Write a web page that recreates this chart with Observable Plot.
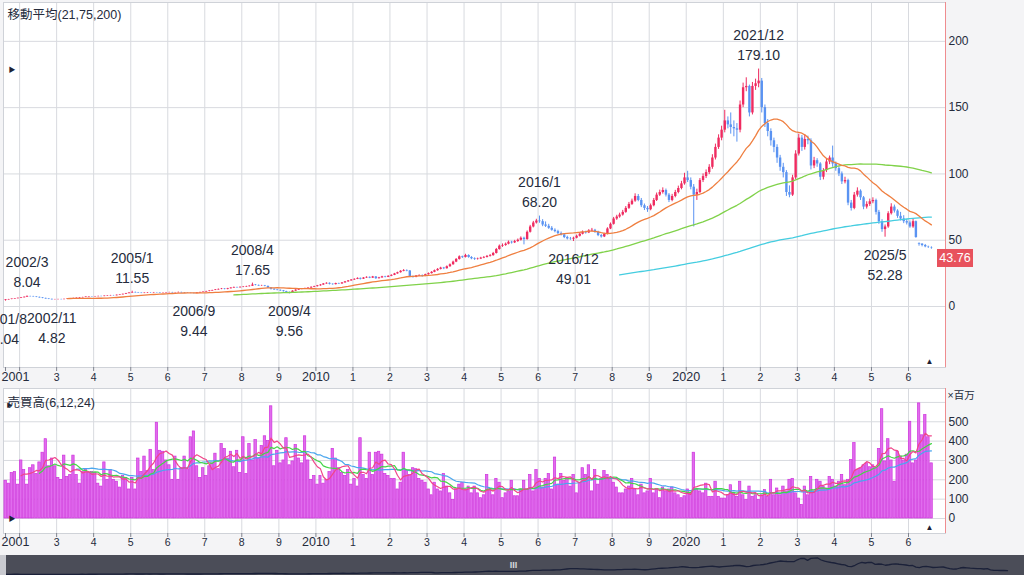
<!DOCTYPE html>
<html><head><meta charset="utf-8">
<script src="https://cdn.jsdelivr.net/npm/d3@7"></script>
<script src="https://cdn.jsdelivr.net/npm/@observablehq/plot@0.6"></script>
<style>
body{margin:0;background:#f4f4f6;}
#wrap{position:relative;width:1024px;height:575px;overflow:hidden;background:#f4f4f6;}
#strip{position:absolute;left:0;top:555px;width:6px;height:20px;background:#c9cad0;}
</style></head><body><div id="wrap"><div id="strip"></div></div>
<script>
// ---- data: monthly candles from 2001/8 to 2026/8 ----
const startYear = 2001, startMonth = 8;
const open = [
4.5,5.0,5.3,5.6,5.9,
6.2,6.6,7.0,7.5,7.4,7.2,6.9,6.5,6.1,5.7,5.4,5.1,
5.2,5.3,5.2,5.4,5.6,5.8,6.1,6.3,6.6,6.8,7.1,7.3,
7.2,7.4,7.6,7.5,7.8,8.0,8.2,8.1,8.5,8.8,9.2,9.7,
10.2,10.6,10.3,10.1,9.9,10.1,10.3,10.2,10.4,10.3,10.1,10.2,
10.4,10.5,10.3,10.4,10.6,10.3,10.1,10.0,9.9,9.8,10.2,10.6,
10.9,11.3,11.7,12.1,12.5,12.9,13.2,12.9,13.4,13.9,14.3,14.1,
14.5,14.7,15.0,15.3,16.2,15.9,15.5,15.6,15.2,14.0,13.0,12.5,
12.2,11.8,11.2,10.6,10.4,11.6,12.4,12.9,13.2,13.6,13.9,14.5,
15.0,15.6,16.2,17.0,17.5,16.8,16.5,17.3,17.0,17.8,18.6,19.3,
20.0,20.5,21.2,20.6,21.5,22.0,21.4,22.3,21.0,21.6,22.4,22.0,
22.8,23.5,24.6,25.5,26.6,27.2,26.8,22.5,22.0,23.0,23.4,22.8,
24.0,24.8,25.8,27.0,28.0,29.0,28.5,30.0,31.5,33.5,35.5,37.5,
37.0,38.5,37.0,36.0,35.5,35.8,36.5,37.0,37.8,38.4,40.0,43.0,
45.5,46.0,47.0,48.5,48.0,49.0,50.0,51.5,50.5,56.0,60.0,63.0,
64.5,64.0,61.5,60.5,59.0,57.5,56.5,55.0,54.0,52.0,51.0,50.8,
51.5,53.0,54.5,56.0,55.5,57.0,57.5,56.0,53.5,52.5,54.5,58.5,
62.0,66.0,67.5,69.0,71.0,74.0,77.0,79.5,83.0,80.0,76.0,74.0,
73.0,76.0,80.0,84.0,86.0,87.5,84.0,80.0,83.0,86.0,89.0,92.5,
97.0,95.0,90.0,84.0,86.0,95.0,98.0,101.0,105.0,112.0,120.0,127.0,
133.0,140.0,137.0,135.0,134.0,133.0,152.0,165.0,166.0,146.0,166.0,168.0,
170.0,150.0,138.0,132.0,125.0,120.0,112.0,105.0,101.0,86.0,84.0,97.0,
115.0,127.0,120.0,126.0,125.0,106.0,110.0,107.5,97.5,102.5,109.0,112.0,
107.5,104.0,100.0,94.0,95.0,78.0,74.0,84.0,87.0,82.0,75.0,77.0,
79.0,80.0,71.0,64.0,58.0,60.0,70.0,75.0,72.0,68.0,66.0,64.0,
63.0,60.0,64.0,47.5,47.0,46.0,45.0,44.0];
const high = [
5.2,5.4,5.7,6.0,6.4,
6.8,7.2,8.04,7.8,7.7,7.4,7.1,6.7,6.3,5.9,5.6,5.4,
5.5,5.5,5.6,5.8,6.0,6.3,6.5,6.8,7.0,7.3,7.5,7.5,
7.6,7.8,7.8,8.0,8.2,8.4,8.4,8.7,9.0,9.4,9.9,10.4,
11.55,10.9,10.6,10.3,10.3,10.5,10.5,10.6,10.6,10.5,10.4,10.6,
10.8,10.7,10.6,10.9,10.8,10.5,10.3,10.2,10.1,10.4,10.8,11.1,
11.5,11.9,12.3,12.8,13.2,13.6,13.5,13.7,14.2,14.7,14.6,14.8,
15.1,15.3,15.7,17.65,16.6,16.2,16.0,15.9,15.4,14.3,13.4,12.9,
12.5,12.1,11.5,10.9,11.9,12.7,13.2,13.5,13.9,14.2,14.8,15.3,
15.9,16.5,17.3,17.9,17.8,17.1,17.6,17.6,18.1,18.9,19.6,20.3,
20.9,21.6,21.5,21.8,22.4,22.3,22.7,22.6,22.0,22.8,22.8,23.2,
23.9,25.0,25.9,27.0,27.8,27.6,27.1,23.0,23.4,23.9,23.8,24.4,
25.3,26.3,27.5,28.6,29.6,29.5,30.6,32.1,34.2,36.2,38.2,38.0,
39.4,39.0,37.6,36.7,36.5,37.1,37.7,38.5,39.2,40.8,43.8,46.4,
47.2,47.9,49.4,49.2,49.9,50.9,52.5,52.3,57.0,61.2,64.2,65.8,
68.2,65.5,63.8,62.0,60.3,58.6,57.5,56.2,55.0,53.0,52.1,52.3,
53.9,55.4,57.0,56.8,58.0,58.9,58.2,56.8,54.3,55.3,59.4,63.0,
67.2,68.8,70.4,72.5,75.4,78.5,81.0,85.0,84.5,81.5,77.3,75.4,
77.3,81.5,85.6,87.8,89.5,88.6,85.2,84.6,87.6,90.8,94.4,100.5,
102.0,97.0,92.0,88.5,96.5,100.0,103.0,107.0,114.5,122.5,129.5,136.0,
148.0,143.0,146.0,140.0,138.0,155.0,168.5,172.5,167.0,169.0,171.5,179.1,
172.0,152.0,141.0,134.0,127.0,122.0,114.0,108.0,102.5,91.0,99.0,117.5,
130.0,129.0,129.5,128.5,126.5,112.5,111.5,108.5,104.0,111.0,113.5,121.0,
109.0,105.5,101.5,97.5,96.0,80.0,86.0,89.5,88.0,83.0,79.0,81.0,
82.0,81.0,72.5,65.5,61.5,71.5,77.5,76.5,73.0,71.0,68.5,65.5,
64.5,66.0,64.5,48.0,47.5,46.8,45.5,45.0];
const low = [
4.04,4.8,5.1,5.4,5.7,
6.0,6.4,6.9,7.1,7.0,6.7,6.3,5.9,5.5,5.2,4.82,4.95,
5.0,5.0,5.05,5.3,5.5,5.7,5.9,6.2,6.4,6.7,6.9,7.0,
7.1,7.3,7.3,7.4,7.6,7.9,7.9,8.0,8.4,8.7,9.1,9.6,
10.0,10.1,9.9,9.7,9.7,9.9,10.0,10.0,10.1,9.9,9.9,10.0,
10.2,10.1,10.1,10.2,10.1,9.9,9.8,9.7,9.44,9.7,10.1,10.5,
10.8,11.1,11.5,12.0,12.3,12.7,12.6,12.6,13.2,13.7,13.8,13.9,
14.2,14.4,14.7,15.1,15.6,15.2,15.2,14.9,13.6,12.4,12.1,11.8,
11.4,10.9,10.2,9.56,10.2,11.4,12.1,12.6,12.9,13.3,13.7,14.2,
14.7,15.3,16.0,16.8,16.3,16.1,16.3,16.7,16.8,17.6,18.3,19.1,
19.7,20.3,20.0,20.4,21.2,21.0,21.2,20.5,20.7,21.3,21.6,21.8,
22.5,23.3,24.3,25.2,26.2,26.2,21.8,21.4,21.7,22.6,22.2,22.5,
23.7,24.5,25.5,26.6,27.6,27.8,28.2,29.6,31.1,33.1,35.0,36.2,
36.6,36.4,35.3,34.8,35.0,35.4,36.1,36.6,37.3,37.9,39.6,42.5,
44.6,45.4,46.5,47.1,47.5,48.4,49.4,46.5,50.0,55.4,59.3,62.2,
62.8,60.2,59.6,58.2,56.8,55.6,54.2,53.2,51.2,50.2,49.9,49.01,
51.0,52.4,54.0,54.6,55.0,56.4,55.2,52.7,51.6,52.0,54.0,58.0,
61.4,65.0,66.6,68.2,70.3,73.2,76.2,78.6,79.0,74.6,72.4,71.0,
72.2,75.2,79.2,83.0,84.8,82.6,78.4,79.0,82.0,85.0,88.0,91.5,
93.5,88.0,60.0,80.0,85.0,93.5,96.5,99.5,103.5,110.5,118.5,125.0,
131.0,134.0,130.0,128.0,124.0,131.0,150.0,162.0,143.0,144.5,163.0,165.0,
146.0,135.0,128.0,121.0,116.0,108.0,102.0,97.0,83.0,82.0,83.0,95.5,
113.5,117.0,118.0,122.0,103.0,104.0,105.0,95.0,95.5,101.0,107.0,105.0,
102.0,98.0,92.0,92.5,76.0,72.0,73.0,82.5,80.0,73.0,73.5,75.5,
77.5,69.0,62.0,56.0,52.28,59.0,69.0,70.5,66.5,64.5,62.5,61.5,
59.0,59.0,51.5,45.5,45.0,44.3,43.8,43.2];
const close = [
5.0,5.3,5.6,5.9,6.2,
6.6,7.0,7.5,7.4,7.2,6.9,6.5,6.1,5.7,5.4,5.1,5.2,
5.3,5.2,5.4,5.6,5.8,6.1,6.3,6.6,6.8,7.1,7.3,7.2,
7.4,7.6,7.5,7.8,8.0,8.2,8.1,8.5,8.8,9.2,9.7,10.2,
10.6,10.3,10.1,9.9,10.1,10.3,10.2,10.4,10.3,10.1,10.2,10.4,
10.5,10.3,10.4,10.6,10.3,10.1,10.0,9.9,9.8,10.2,10.6,10.9,
11.3,11.7,12.1,12.5,12.9,13.2,12.9,13.4,13.9,14.3,14.1,14.5,
14.7,15.0,15.3,16.2,15.9,15.5,15.6,15.2,14.0,13.0,12.5,12.2,
11.8,11.2,10.6,10.4,11.6,12.4,12.9,13.2,13.6,13.9,14.5,15.0,
15.6,16.2,17.0,17.5,16.8,16.5,17.3,17.0,17.8,18.6,19.3,20.0,
20.5,21.2,20.6,21.5,22.0,21.4,22.3,21.0,21.6,22.4,22.0,22.8,
23.5,24.6,25.5,26.6,27.2,26.8,22.5,22.0,23.0,23.4,22.8,24.0,
24.8,25.8,27.0,28.0,29.0,28.5,30.0,31.5,33.5,35.5,37.5,37.0,
38.5,37.0,36.0,35.5,35.8,36.5,37.0,37.8,38.4,40.0,43.0,45.5,
46.0,47.0,48.5,48.0,49.0,50.0,51.5,50.5,56.0,60.0,63.0,64.5,
64.0,61.5,60.5,59.0,57.5,56.5,55.0,54.0,52.0,51.0,50.8,51.5,
53.0,54.5,56.0,55.5,57.0,57.5,56.0,53.5,52.5,54.5,58.5,62.0,
66.0,67.5,69.0,71.0,74.0,77.0,79.5,83.0,80.0,76.0,74.0,73.0,
76.0,80.0,84.0,86.0,87.5,84.0,80.0,83.0,86.0,89.0,92.5,97.0,
95.0,90.0,84.0,86.0,95.0,98.0,101.0,105.0,112.0,120.0,127.0,133.0,
140.0,137.0,135.0,134.0,133.0,152.0,165.0,166.0,146.0,166.0,168.0,170.0,
150.0,138.0,132.0,125.0,120.0,112.0,105.0,101.0,86.0,84.0,97.0,115.0,
127.0,120.0,126.0,125.0,106.0,110.0,107.5,97.5,102.5,109.0,112.0,107.5,
104.0,100.0,94.0,95.0,78.0,74.0,84.0,87.0,82.0,75.0,77.0,79.0,
80.0,71.0,64.0,58.0,60.0,70.0,75.0,72.0,68.0,66.0,64.0,63.0,
60.0,64.0,52.0,47.0,46.0,45.0,44.8,43.76];
// volume, millions of shares
const volume = [
195,180,235,240,175,
300,250,175,260,275,230,290,340,410,270,310,270,
210,200,325,215,225,325,225,180,240,250,235,240,
235,180,165,290,200,250,200,190,160,220,210,150,
210,150,310,240,320,245,355,250,495,350,345,300,
275,200,320,200,260,320,255,420,450,270,210,260,
220,270,285,335,255,385,360,310,345,265,350,235,
420,230,385,300,405,310,375,425,400,580,270,350,
285,300,415,275,295,380,310,285,425,300,200,220,
175,220,180,200,240,360,310,260,235,220,250,175,
205,165,415,225,205,340,225,340,345,330,230,220,
205,205,150,185,340,245,225,260,255,205,195,185,
150,120,185,150,140,230,165,130,95,150,175,185,
150,165,130,165,130,105,120,225,150,120,205,185,
105,130,140,195,115,115,150,195,150,225,140,250,
205,160,205,230,150,315,175,230,195,210,165,225,
130,185,260,225,275,140,250,175,205,245,225,205,
185,160,130,130,150,165,205,150,120,175,130,140,
205,130,150,105,160,140,150,160,130,120,105,115,
150,130,340,150,140,130,180,112,112,190,112,103,
103,120,172,130,112,190,120,95,165,112,120,95,
120,147,112,200,120,155,120,165,140,200,205,130,
103,70,165,120,215,140,200,190,165,155,215,200,
165,190,225,172,200,302,390,250,260,275,285,265,
275,260,360,565,295,410,300,190,345,320,300,330,
500,285,300,595,430,535,420,285];

const firstLabel = "2001";
const tickYears = [2002,2003,2004,2005,2006,2007,2008,2009,2010,2011,2012,2013,2014,2015,2016,2017,2018,2019,2020,2021,2022,2023,2024,2025,2026];
const tickLabels = ["","3","4","5","6","7","8","9","2010","1","2","3","4","5","6","7","8","9","2020","1","2","3","4","5","6"];
const priceTicks = [0,50,100,150,200];
const volumeGrid = [0,100,200,300,400,500,600];
const volumeTicks = [0,100,200,300,400,500];
const annMonths = ["2001-8","2002-3","2002-11","2005-1","2006-9","2008-4","2009-4","2016-1","2016-12","2021-12","2025-5"];
const annValues = [4.04,8.04,4.82,11.55,9.44,17.65,9.56,68.20,49.01,179.10,52.28];
const annKinds = ["low","high","low","high","low","high","low","high","low","high","low"];
const lastPrice = 43.76;
const priceTitle = "移動平均(21,75,200)";
const volumeTitle = "売買高(6,12,24)";
const volumeUnit = "×百万";

// ---- build tables ----
const rows = close.map((c, i) => ({
  date: new Date(Date.UTC(startYear, startMonth - 1 + i, 15)),
  open: open[i], high: high[i], low: low[i], close: c, volume: volume[i],
  up: c >= open[i]
}));
const gridDates = tickYears.map(y => new Date(Date.UTC(y, 0, 1)));
const tickData = tickYears.map((y, i) => ({date: gridDates[i], label: tickLabels[i]}));
const ann = annMonths.map((s, i) => {
  const [y, m] = s.split("-").map(Number);
  return {date: new Date(Date.UTC(y, m - 1, 15)), value: annValues[i], kind: annKinds[i],
          label: `${y}/${m}\n${annValues[i].toFixed(2)}`};
});

const xDomain = [new Date(Date.UTC(2001, 6, 26)), new Date(Date.UTC(2027, 0, 1))];
const upColor = "#ef2b60", downColor = "#5a93f2";
const textColor = "#252b3c", gridColor = "#d8dadf", borderColor = "#cfd2d8", redAxis = "#ef8c8f";
const font = "'Liberation Sans','Noto Sans CJK JP',sans-serif";
const svgStyle = top => `position:absolute;left:0;top:${top}px;background:transparent;overflow:hidden;font-family:${font};`;

function tickMarks(yMin) {
  return Plot.ruleX([rows[0].date, ...gridDates], {x: d => d, y1: yMin, y2: yMin, insetBottom: -4, stroke: "#80848f"});
}
function xLabels(dy) {
  return [
    Plot.text(tickData.filter(d => d.label.length <= 2), {x: "date", text: "label", frameAnchor: "bottom", dy, fontSize: 10.5, fill: textColor}),
    Plot.text(tickData.filter(d => d.label.length > 2), {x: "date", text: "label", frameAnchor: "bottom", dy, fontSize: 12.5, fill: textColor}),
    Plot.text([rows[0]], {x: "date", text: () => firstLabel, frameAnchor: "bottom", dy, dx: -4, textAnchor: "start", fontSize: 12.5, fill: textColor})
  ];
}

// ---- main price chart ----
const yDom = [-46, 229.3];
const priceTag = (index, scales, values, dims) => {
  const y = scales.y(lastPrice);
  const x0 = dims.width - dims.marginRight;
  const g = d3.create("svg:g");
  g.append("rect").attr("x", x0 - 8).attr("y", y + 1).attr("width", 36).attr("height", 18).attr("fill", "#e8525d");
  g.append("text").attr("x", x0 + 10).attr("y", y + 10).attr("text-anchor", "middle")
    .attr("dominant-baseline", "central").attr("fill", "white").attr("font-size", 12.5)
    .text(lastPrice.toFixed(2));
  return g.node();
};
const main = Plot.plot({
  width: 1024, height: 388,
  marginLeft: 3, marginRight: 79, marginTop: 2, marginBottom: 21,
  style: svgStyle(0),
  x: {type: "utc", domain: xDomain, axis: null},
  y: {domain: yDom, axis: null},
  marks: [
    Plot.frame({fill: "white"}),
    Plot.ruleX(gridDates, {stroke: gridColor}),
    Plot.ruleY(priceTicks, {stroke: gridColor}),
    Plot.frame({stroke: borderColor}),
    Plot.ruleX(rows, {x: "date", y1: "low", y2: "high", stroke: d => d.up ? upColor : downColor, strokeWidth: 1}),
    Plot.ruleX(rows, {x: "date", y1: "open", y2: "close", stroke: d => d.up ? upColor : downColor, strokeWidth: 2.4}),
    Plot.lineY(rows, Plot.windowY({k: 200, anchor: "end", strict: true}, {x: "date", y: "close", stroke: "#45cde0", strokeWidth: 1.3})),
    Plot.lineY(rows, Plot.windowY({k: 75, anchor: "end", strict: true}, {x: "date", y: "close", stroke: "#80d24a", strokeWidth: 1.3})),
    Plot.lineY(rows, Plot.windowY({k: 21, anchor: "end", strict: true}, {x: "date", y: "close", stroke: "#ef7f40", strokeWidth: 1.3})),
    Plot.text(ann.filter(d => d.kind === "high"), {x: "date", y: "value", text: "label", dy: -25, lineAnchor: "middle", lineHeight: 1.43, fontSize: 14, fill: textColor}),
    Plot.text(ann.filter(d => d.kind === "low"), {x: "date", y: "value", text: "label", dy: 26, lineAnchor: "middle", lineHeight: 1.43, fontSize: 14, fill: textColor}),
    Plot.ruleX([xDomain[1]], {stroke: redAxis}),
    Plot.text(priceTicks, {y: d => d, frameAnchor: "right", dx: 3, textAnchor: "start", fontSize: 12, fill: textColor}),
    priceTag,
    tickMarks(yDom[0]),
    ...xLabels(13),
    Plot.text([priceTitle], {frameAnchor: "top-left", dx: 4, dy: 12, lineAnchor: "middle", fontSize: 12.5, fill: textColor}),
    Plot.text(["▶"], {frameAnchor: "top-left", dx: 5, dy: 67, lineAnchor: "middle", fontSize: 7, fill: "#1c2235"}),
    Plot.text(["▲"], {frameAnchor: "bottom-right", dx: -12, dy: -6, lineAnchor: "middle", fontSize: 8, fill: "#1c2235"})
  ]
});

// ---- volume chart ----
const vDom = [-77.6, 672];
const vol = Plot.plot({
  width: 1024, height: 167,
  marginLeft: 3, marginRight: 79, marginTop: 0, marginBottom: 22,
  style: svgStyle(388),
  x: {type: "utc", domain: xDomain, axis: null},
  y: {domain: vDom, axis: null},
  marks: [
    Plot.frame({fill: "white"}),
    Plot.ruleX(gridDates, {stroke: gridColor}),
    Plot.ruleY(volumeGrid, {stroke: gridColor}),
    Plot.frame({stroke: borderColor}),
    Plot.rectY(rows, {x: "date", y: "volume", interval: d3.utcMonth, insetLeft: 0.35, insetRight: 0.35, fill: "#e06ced", stroke: "#cf33dd", strokeWidth: 0.7}),
    Plot.lineY(rows, Plot.windowY({k: 24, anchor: "end", strict: true}, {x: "date", y: "volume", stroke: "#4aa6ee", strokeWidth: 1.2})),
    Plot.lineY(rows, Plot.windowY({k: 12, anchor: "end", strict: true}, {x: "date", y: "volume", stroke: "#44d548", strokeWidth: 1.2})),
    Plot.lineY(rows, Plot.windowY({k: 6, anchor: "end", strict: true}, {x: "date", y: "volume", stroke: "#f0468a", strokeWidth: 1.2})),
    Plot.ruleX([xDomain[1]], {stroke: redAxis}),
    Plot.text(volumeTicks, {y: d => d, frameAnchor: "right", dx: 3, textAnchor: "start", fontSize: 12, fill: textColor}),
    Plot.text([volumeUnit], {frameAnchor: "top-right", dx: 2, dy: 7, textAnchor: "start", lineAnchor: "middle", fontSize: 10.5, fill: textColor}),
    tickMarks(vDom[0]),
    ...xLabels(12),
    Plot.text([volumeTitle], {frameAnchor: "top-left", dx: 4, dy: 14, lineAnchor: "middle", fontSize: 12.5, fill: textColor}),
    Plot.text(["▶"], {frameAnchor: "top-left", dx: 3, dy: 17, lineAnchor: "middle", fontSize: 6, fill: "#1c2235"}),
    Plot.text(["▶"], {frameAnchor: "bottom-left", dx: 5, dy: -15, lineAnchor: "middle", fontSize: 7, fill: "#1c2235"}),
    Plot.text(["▲"], {frameAnchor: "bottom-right", dx: -12, dy: -6, lineAnchor: "middle", fontSize: 8, fill: "#1c2235"})
  ]
});

// ---- navigator ----
const nav = Plot.plot({
  width: 1018, height: 20, margin: 0,
  style: svgStyle(555).replace("left:0", "left:6px").replace("background:transparent", "background:#4b4d58"),
  x: {type: "utc", domain: [rows[0].date, rows[rows.length - 1].date], range: [-16, 1001], axis: null},
  y: {domain: [0, 185], range: [19.5, 1], axis: null},
  marks: [
    Plot.lineY(rows, {x: "date", y: "close", stroke: "#1b2139", strokeWidth: 1.3}),
    Plot.text(["III"], {frameAnchor: "middle", dx: -2, fill: "#d8d9de", fontSize: 9, fontWeight: "bold"})
  ]
});

document.getElementById("wrap").append(main, vol, nav);
</script>
</body></html>
